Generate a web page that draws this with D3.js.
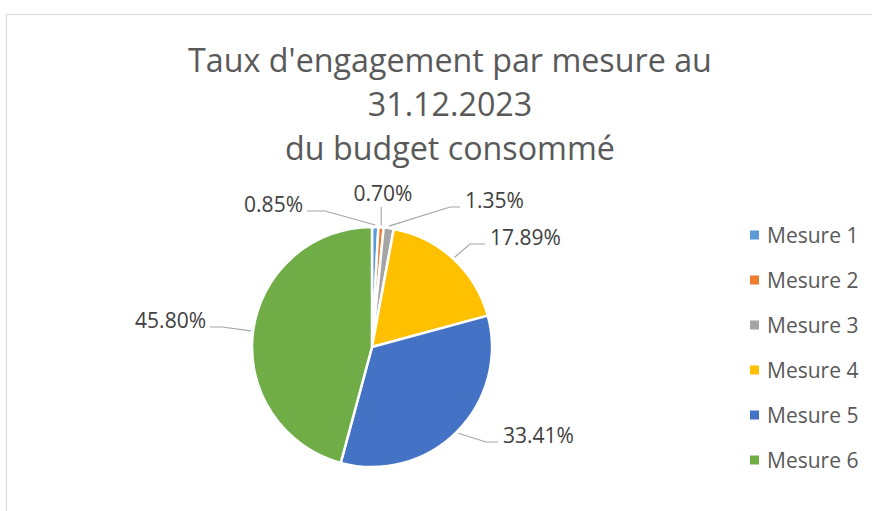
<!DOCTYPE html>
<html>
<head>
<meta charset="utf-8">
<script src="https://cdn.jsdelivr.net/npm/d3@7"></script>
<style>
    body { margin: 0; background: #fff; }
    text { font-family: "Open Sans", sans-serif; }
</style>
</head>
<body>
<svg id="chart"></svg>
<script>
// Chart data
const categories = ["Mesure 1", "Mesure 2", "Mesure 3", "Mesure 4", "Mesure 5", "Mesure 6"];
const shares = [0.85, 0.70, 1.35, 17.89, 33.41, 45.80];
const colors = ["#5B9BD5", "#ED7D31", "#A5A5A5", "#FFC000", "#4472C4", "#70AD47"];
const titleLines = ["Taux d'engagement par mesure au", "31.12.2023", "du budget consommé"];

// Where each data label sits (text x, baseline y, anchor, elbow x of leader)
const labelLayout = [
    { x: 303, y: 212, anchor: "end", elbow: 325 },
    { x: 383, y: 201, anchor: "middle", elbow: null },
    { x: 465, y: 208, anchor: "start", elbow: 450 },
    { x: 490, y: 245, anchor: "start", elbow: 470 },
    { x: 503, y: 443, anchor: "start", elbow: 486 },
    { x: 206, y: 328, anchor: "end", elbow: 222 }
];

let width = 872;
let height = 511;
let cx = 372, cy = 347, radius = 120;

let svg = d3.select("#chart")
    .attr("width", width)
    .attr("height", height);

// Chart area border
svg.append("rect")
    .attr("x", 6.5)
    .attr("y", 14.5)
    .attr("width", width)
    .attr("height", height)
    .attr("fill", "none")
    .attr("stroke", "#D9D9D9")
    .attr("stroke-width", 1);

// Title: size picked so the first line is as wide as in the reference
let titleBase = [72, 116, 160];
let title = svg.append("g")
    .attr("fill", "#595959")
    .attr("text-anchor", "middle")
    .style("font-size", "32px");
titleLines.forEach(function (line, i) {
    title.append("text")
        .attr("x", 450)
        .attr("y", titleBase[i])
        .text(line);
});
let firstWidth = title.select("text").node().getComputedTextLength();
title.style("font-size", (32 * 524 / firstWidth) + "px");

// Pie
let pie = d3.pie().value(d => d).sort(null);
let arcs = pie(shares);

let arc = d3.arc().innerRadius(0).outerRadius(radius);
let edge = d3.arc().innerRadius(radius + 2).outerRadius(radius + 2);

let g = svg.append("g").attr("transform", `translate(${cx},${cy})`);

g.selectAll("path")
    .data(arcs)
    .enter().append("path")
    .attr("d", arc)
    .attr("fill", (d, i) => colors[i])
    .attr("stroke", "#fff")
    .attr("stroke-width", 2.5)
    .attr("stroke-linejoin", "round");

// Leader lines and data labels
let labels = svg.append("g");
arcs.forEach(function (d, i) {
    let p = edge.centroid(d);
    let sx = cx + p[0], sy = cy + p[1];
    let lay = labelLayout[i];
    let pts;
    if (lay.elbow === null) {
        pts = [[sx, sy], [sx, lay.y + 6]];
    } else {
        let endX = lay.anchor === "end" ? lay.x + 4 : lay.x - 5;
        pts = [[sx, sy], [lay.elbow, lay.y - 1], [endX, lay.y - 1]];
    }
    labels.append("path")
        .attr("d", d3.line()(pts))
        .attr("fill", "none")
        .attr("stroke", "#A6A6A6")
        .attr("stroke-width", 1.2);

    labels.append("text")
        .attr("x", lay.x)
        .attr("y", lay.y)
        .attr("text-anchor", lay.anchor)
        .attr("fill", "#404040")
        .style("font-size", "21px")
        .text(d3.format(".2f")(shares[i]) + "%");
});

// Legend
let legend = svg.append("g");
let legendY = d3.scalePoint().domain(categories).range([235, 460]);
categories.forEach(function (c, i) {
    legend.append("rect")
        .attr("x", 750)
        .attr("y", legendY(c) - 4.5)
        .attr("width", 9)
        .attr("height", 9)
        .attr("fill", colors[i]);
    legend.append("text")
        .attr("x", 767)
        .attr("y", legendY(c) + 7.5)
        .attr("fill", "#595959")
        .style("font-size", "21px")
        .text(c);
});
</script>
</body>
</html>
